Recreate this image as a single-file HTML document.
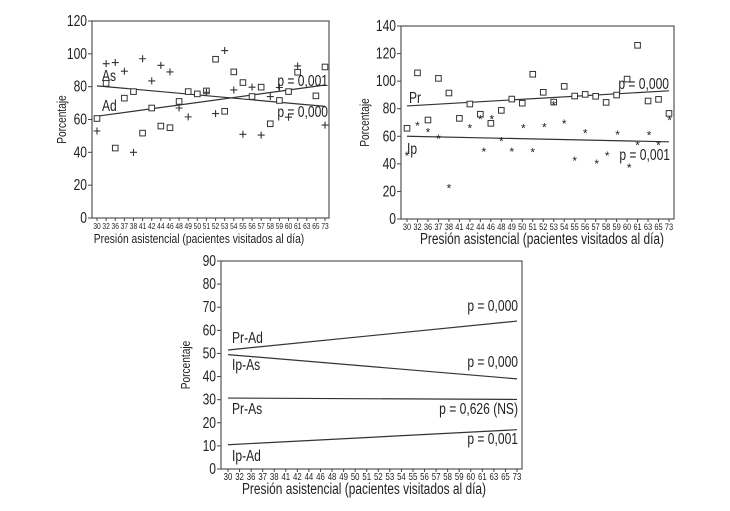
<!DOCTYPE html>
<html><head><meta charset="utf-8">
<style>
html,body{margin:0;padding:0;background:#fff;}
svg{display:block;font-family:"Liberation Sans Narrow","Liberation Sans",sans-serif;}
</style></head>
<body>
<svg id="fig" width="730" height="511" viewBox="0 0 730 511" xmlns="http://www.w3.org/2000/svg"></svg>
<script>
const categories = ["30","32","36","37","38","41","42","44","46","48","49","50","51","52","53","54","55","56","57","58","59","60","61","63","65","73"];
// Chart A (top-left)
const adSquares = [60.6,82,42.6,73,77,51.7,67,56,55,71,77,75.6,77.4,96.7,65,89,82.5,74,79.7,57.4,71.6,77,88.8,null,74.4,92];
const asPlus = [53,94,94.7,89.4,40,97,83.5,93,89,67,61.6,null,76.6,63.6,102,78,51,79.7,50.5,74,79.5,61.4,92.6,null,null,56.6];
const asLine = [80.5,68];
const adLine = [62,81];
const yTicksA = [0,20,40,60,80,100,120];
// Chart B (top-right)
const prSquares = [65.8,106,71.8,102,91.4,73,83.4,76,69.4,78.8,87,84,105,91.9,84.8,96.2,89.2,90.4,89,84.6,89.9,101.5,126,85.6,86.8,76.6];
const ipStarIdx = [0,1,2,3,4,6,7,7.33,8.1,9,10,11.1,12,13.1,14,15,16,17,18.1,19.1,20.1,21.2,22,23.1,24,25.05];
const ipStars = [46.4,68.2,63.3,58.7,23,66.5,72.8,49.5,73,57,49.5,66.2,48.8,67,83.2,69.6,42.8,62.6,40.6,46.4,61.8,37.9,54.2,61.4,54.2,72];
const prLine = [82,93];
const ipLine = [60,56];
const yTicksB = [0,20,40,60,80,100,120,140];
// Chart C (bottom)
const prAdLine = [51.5,64];
const ipAsLine = [49.5,39];
const prAsLine = [30.7,30.1];
const ipAdLine = [10.5,17];
const yTicksC = [0,10,20,30,40,50,60,70,80,90];

const NS="http://www.w3.org/2000/svg";
const fig=document.getElementById('fig');
const CX=0.78;
function mk(tag,attrs,parent){const e=document.createElementNS(NS,tag);for(const k in attrs)e.setAttribute(k,attrs[k]);(parent||fig).appendChild(e);return e;}
function txt(s,x,y,size,anchor,parent,rot){
  const t=mk('text',{x:0,y:0,'font-size':size,'text-anchor':anchor||'start',fill:'#222'},parent);
  t.setAttribute('transform','translate('+x+','+y+')'+(rot?' rotate(-90)':'')+' scale('+CX+',1)');
  t.textContent=s;return t;}

function makeChart(name,cfg){
  const g=mk('g',{});
  
  
  const {x0,x1,yTop,yBot,yMax,cx0,cx1}=cfg;
  const sx=i=>cx0+(cx1-cx0)*i/(categories.length-1);
  const sy=v=>yBot-(yBot-yTop)*v/yMax;
  const frame=mk('rect',{x:x0,y:yTop,width:x1-x0,height:yBot-yTop,fill:'none',stroke:'#555','stroke-width':1.2},g);
  
  
  cfg.yTicks.forEach(v=>{
    const y=sy(v);
    mk('line',{x1:x0-4,x2:x0,y1:y,y2:y,stroke:'#444'},g);
    const t=txt(String(v),x0-5,y+5,cfg.yFont,'end',g);
    
    
  });
  categories.forEach((c,i)=>{
    const x=sx(i);
    mk('line',{x1:x,x2:x,y1:yBot,y2:yBot+3,stroke:'#444'},g);
    const t=txt(c,x,yBot+11,cfg.xFont,'middle',g);
    
    
  });
  const xt=txt('Presión asistencial (pacientes visitados al día)',cfg.xTitleX,yBot+25,cfg.tFont,'middle',g);
  
  
  const ym=(yTop+yBot)/2;
  const yt=txt('Porcentaje',cfg.yTitleX,ym,13,'middle',g,true);
  
  
  (cfg.lines||[]).forEach(L=>{
    const l=mk('line',{x1:sx(0),x2:sx(categories.length-1),y1:sy(L.v[0]),y2:sy(L.v[1]),stroke:'#333','stroke-width':1.2},g);
    
    
  });
  (cfg.squares||[]).forEach(S=>{
    S.forEach((v,i)=>{ if(v==null)return;
      const r=mk('rect',{x:sx(i)-2.8,y:sy(v)-2.8,width:5.6,height:5.6,fill:'#fff',stroke:'#333','stroke-width':1},g);
      
      
    });
  });
  (cfg.pluses||[]).forEach(S=>{
    S.forEach((v,i)=>{ if(v==null)return;
      const p=mk('path',{d:'M'+(sx(i)-3.5)+' '+sy(v)+'h7M'+sx(i)+' '+(sy(v)-3.5)+'v7',stroke:'#333','stroke-width':1.1},g);
      
      
    });
  });
  if(cfg.stars){
    ipStars.forEach((v,k)=>{
      const s=mk('text',{x:sx(ipStarIdx[k]),y:sy(v)+5,'font-size':12,'text-anchor':'middle',fill:'#222'},g);
      s.textContent='*';
      
      
    });
  }
  (cfg.labels||[]).forEach(Lb=>{
    const t=txt(Lb.t,Lb.x,Lb.y,Lb.s||15.5,Lb.a||'start',g);
    
    
  });
}

makeChart('chart-as-ad',{x0:92,x1:329,yTop:21,yBot:218,yMax:120,cx0:97,cx1:325,yTicks:yTicksA,yFont:15.5,xFont:8.5,tFont:13.2,xTitleX:199,yTitleX:66,
  lines:[{name:'as-trend-line',v:asLine},{name:'ad-trend-line',v:adLine}],
  squares:[adSquares],pluses:[asPlus],
  labels:[{t:'As',x:102,y:81,n:'as-label'},{t:'Ad',x:102,y:111,n:'ad-label'},
          {t:'p = 0,001',x:328,y:86,a:'end',n:'as-p-value'},{t:'p = 0,000',x:328,y:117,a:'end',n:'ad-p-value'}]});

makeChart('chart-pr-ip',{x0:401,x1:674,yTop:26,yBot:219,yMax:140,cx0:407,cx1:669,yTicks:yTicksB,yFont:15.5,xFont:9.5,tFont:15.3,xTitleX:542,yTitleX:369,
  lines:[{name:'pr-trend-line',v:prLine},{name:'ip-trend-line',v:ipLine}],
  squares:[prSquares],stars:true,
  labels:[{t:'Pr',x:409,y:103,n:'pr-label'},{t:'Ip',x:407,y:154,n:'ip-label'},
          {t:'p = 0,000',x:669,y:89,a:'end',n:'pr-p-value'},{t:'p = 0,001',x:670,y:160,a:'end',n:'ip-p-value'}]});

makeChart('chart-combined',{x0:221,x1:522,yTop:261,yBot:469,yMax:90,cx0:228,cx1:517,yTicks:yTicksC,yFont:15.5,xFont:10,tFont:15.3,xTitleX:364,yTitleX:190,
  lines:[{name:'pr-ad-line',v:prAdLine},{name:'ip-as-line',v:ipAsLine},{name:'pr-as-line',v:prAsLine},{name:'ip-ad-line',v:ipAdLine}],
  labels:[{t:'Pr-Ad',x:232,y:343,n:'pr-ad-label'},{t:'Ip-As',x:232,y:370,n:'ip-as-label'},
          {t:'Pr-As',x:232,y:414,n:'pr-as-label'},{t:'Ip-Ad',x:232,y:461,n:'ip-ad-label'},
          {t:'p = 0,000',x:518,y:311,a:'end',n:'pr-ad-p-value'},{t:'p = 0,000',x:518,y:367,a:'end',n:'ip-as-p-value'},
          {t:'p = 0,626 (NS)',x:518,y:414,a:'end',n:'pr-as-p-value'},{t:'p = 0,001',x:518,y:444,a:'end',n:'ip-ad-p-value'}]});
</script>
</body></html>
